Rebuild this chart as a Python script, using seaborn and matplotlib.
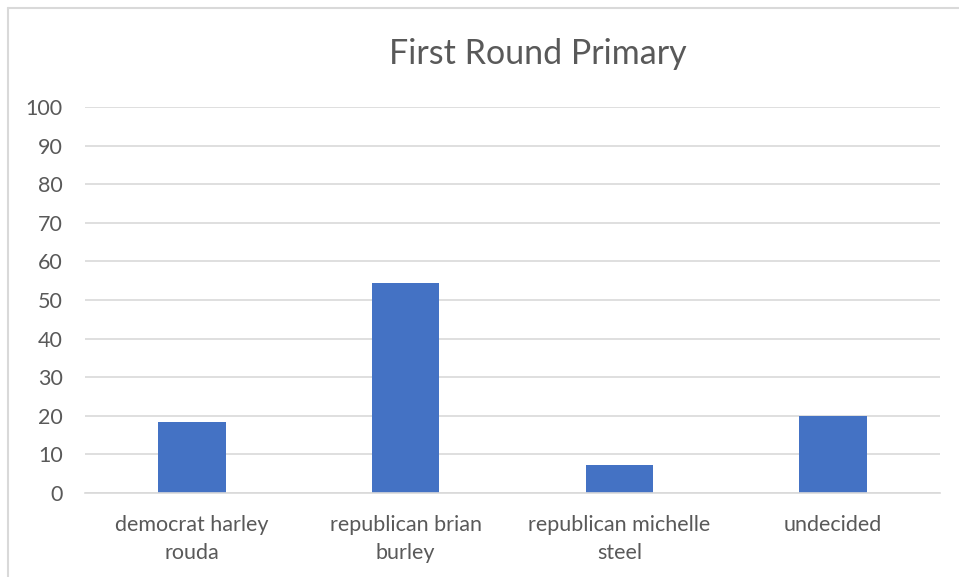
import matplotlib
matplotlib.use("Agg")
import matplotlib.pyplot as plt
import seaborn as sns
import pandas as pd
from matplotlib.lines import Line2D

categories = ["democrat harley\nrouda", "republican brian\nburley",
              "republican michelle\nsteel", "undecided"]
values = [18.3, 54.4, 7.2, 19.9]
y_ticks = [0, 10, 20, 30, 40, 50, 60, 70, 80, 90, 100]
title = "First Round Primary"

sns.set_theme(style="white")
plt.rcParams['font.family'] = ['Lato', 'DejaVu Sans']

df = pd.DataFrame({"category": categories, "value": values})

W, H = 959, 577
fig = plt.figure(figsize=(W / 100, H / 100), dpi=100)
ax = fig.add_axes([85 / W, 1 - 493 / H, (940 - 85) / W, (493 - 107) / H])

sns.barplot(data=df, x="category", y="value", color="#4472C4", saturation=1,
            width=0.315, ax=ax, linewidth=0)

ax.set_ylim(0, 100)
ax.set_xlim(-0.5, 3.5)
ax.set_yticks(y_ticks)
ax.set_yticklabels([str(t) for t in y_ticks])
ax.yaxis.grid(True, color="#D9D9D9", linewidth=1.2)
ax.set_axisbelow(True)
for s in ["top", "right", "left"]:
    ax.spines[s].set_visible(False)
ax.spines["bottom"].set_color("#D9D9D9")
ax.spines["bottom"].set_linewidth(1.2)
ax.tick_params(axis="both", length=0, colors="#595959", labelsize=15.5)
ax.tick_params(axis="y", pad=16)
ax.tick_params(axis="x", pad=16)
for lbl in ax.get_xticklabels():
    lbl.set_linespacing(1.5)
ax.set_xlabel("")
ax.set_ylabel("")

fig.text(538 / W, 1 - 54 / H, title, ha="center", va="center",
         fontsize=24.5, color="#595959")

fig.add_artist(Line2D([8 / W, 8 / W], [0, 1 - 8 / H], transform=fig.transFigure,
                      color="#D9D9D9", linewidth=1.5))
fig.add_artist(Line2D([8 / W, 1], [1 - 8 / H, 1 - 8 / H], transform=fig.transFigure,
                      color="#D9D9D9", linewidth=1.5))

fig.savefig("out.png", dpi=100)
